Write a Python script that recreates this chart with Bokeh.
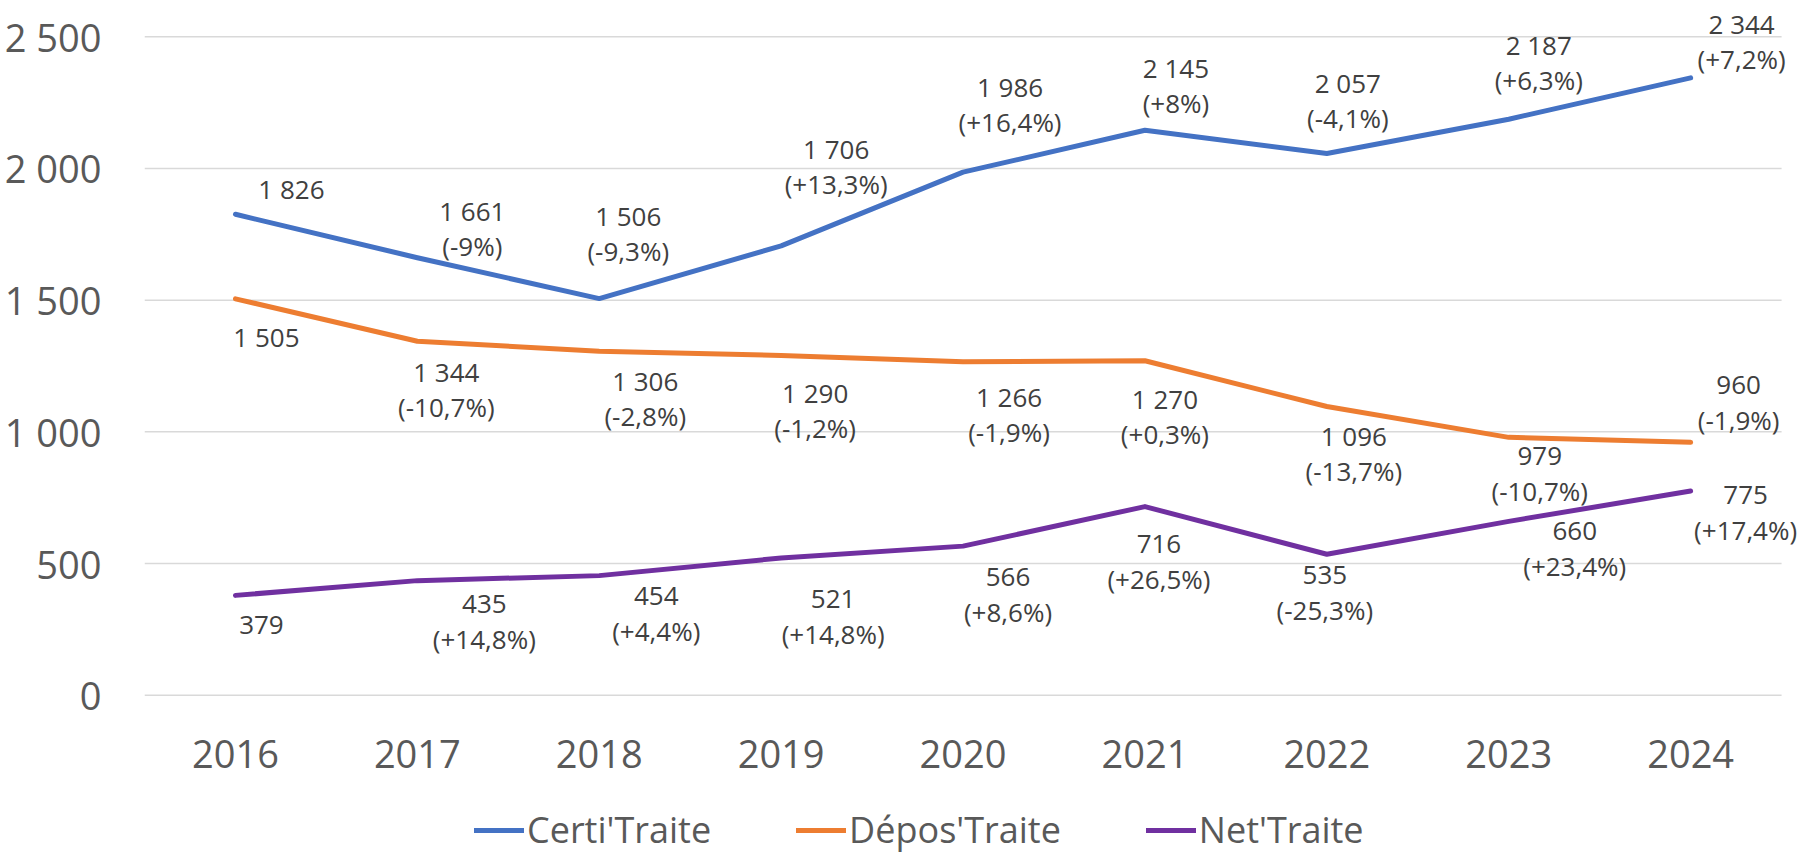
from bokeh.plotting import figure
from bokeh.models import (ColumnDataSource, LabelSet, Legend, LegendItem,
                          FixedTicker, Range1d)
from bokeh.core.properties import value
from bokeh.embed import file_html
from bokeh.resources import INLINE

# ---------------- data ----------------
years = [2016, 2017, 2018, 2019, 2020, 2021, 2022, 2023, 2024]
certi = [1826, 1661, 1506, 1706, 1986, 2145, 2057, 2187, 2344]
depos = [1505, 1344, 1306, 1290, 1266, 1270, 1096, 979, 960]
net = [379, 435, 454, 521, 566, 716, 535, 660, 775]
certi_pct = ["", "(-9%)", "(-9,3%)", "(+13,3%)", "(+16,4%)", "(+8%)", "(-4,1%)", "(+6,3%)", "(+7,2%)"]
depos_pct = ["", "(-10,7%)", "(-2,8%)", "(-1,2%)", "(-1,9%)", "(+0,3%)", "(-13,7%)", "(-10,7%)", "(-1,9%)"]
net_pct = ["", "(+14,8%)", "(+4,4%)", "(+14,8%)", "(+8,6%)", "(+26,5%)", "(-25,3%)", "(+23,4%)", "(+17,4%)"]
series_names = ["Certi'Traite", "Dépos'Traite", "Net'Traite"]
y_ticks = [0, 500, 1000, 1500, 2000, 2500]

# ---------------- layout / style ----------------
colors = ["#4472C4", "#ED7D31", "#7030A0"]
# label offsets in screen pixels (dx right, dy down) for the value line
certi_off = [(56, -25), (55, -47), (29, -83), (55, -97), (47, -85), (31, -62), (21, -70), (30, -74), (51, -54)]
depos_off = [(31, 38), (29, 31), (46, 30), (34, 38), (46, 35), (20, 38), (27, 29), (31, 19), (48, -57)]
net_off = [(26, 30), (67, 23), (57, 20), (52, 41), (45, 31), (14, 37), (-2, 21), (66, 10), (55, 4)]
LINE_GAP = 35
FONT = "Open Sans"


def fmt(v):
    return f"{v:,}".replace(",", " ")


W, H = 1798, 858
X0, X1 = 2015.5, 2024.593
Y0, Y1 = -620.1, 2637.8
p = figure(width=W, height=H, output_backend="svg", toolbar_location=None,
           x_range=Range1d(X0, X1), y_range=Range1d(Y0, Y1),
           min_border_left=144, min_border_right=0, min_border_top=0,
           min_border_bottom=0)
p.outline_line_color = None
p.background_fill_color = "white"
p.border_fill_color = "white"

# axes
p.xaxis.ticker = FixedTicker(ticks=years)
p.xaxis.major_label_overrides = {y: str(y) for y in years}
p.xaxis.fixed_location = 0
p.yaxis.ticker = FixedTicker(ticks=y_ticks)
p.yaxis.major_label_overrides = {t: fmt(t) for t in y_ticks}
for ax in (p.xaxis[0], p.yaxis[0]):
    ax.axis_line_color = None
    ax.major_tick_line_color = None
    ax.minor_tick_line_color = None
    ax.major_label_text_font = FONT
    ax.major_label_text_font_size = "38px"
    ax.major_label_text_color = "#595959"
p.yaxis.major_label_standoff = 37
p.xaxis.major_label_standoff = 39

# horizontal gridlines limited to the category span
p.xgrid.grid_line_color = None
p.ygrid.grid_line_color = None
p.segment(x0=[years[0] - 0.5] * len(y_ticks), x1=[years[-1] + 0.5] * len(y_ticks),
          y0=y_ticks, y1=y_ticks, line_color="#D9D9D9", line_width=1.5)

renderers = []
for vals, pcts, offs, col in [(certi, certi_pct, certi_off, colors[0]),
                              (depos, depos_pct, depos_off, colors[1]),
                              (net, net_pct, net_off, colors[2])]:
    r = p.line(years, vals, line_color=col, line_width=5,
               line_cap="round", line_join="round")
    renderers.append(r)
    src = ColumnDataSource(dict(
        x=years, y=vals,
        val=[fmt(v) for v in vals], pct=pcts,
        dx=[o[0] for o in offs],
        dy1=[-o[1] for o in offs],
        dy2=[-(o[1] + LINE_GAP) for o in offs],
    ))
    for txt, dy in (("val", "dy1"), ("pct", "dy2")):
        ls = LabelSet(x="x", y="y", text=txt, source=src,
                      x_offset="dx", y_offset=dy,
                      text_align="center", text_baseline="middle",
                      text_font=value(FONT), text_font_size="26px",
                      text_color="#404040")
        p.add_layout(ls)

legend = Legend(items=[LegendItem(label=n, renderers=[r])
                       for n, r in zip(series_names, renderers)],
                orientation="horizontal", location=(330, 4),
                padding=0, margin=0, spacing=85,
                glyph_width=50, glyph_height=48, label_height=48,
                label_standoff=3,
                label_text_font=FONT, label_text_font_size="36px",
                label_text_color="#595959",
                background_fill_alpha=0, border_line_alpha=0)
p.add_layout(legend)

open("out.html", "w").write(file_html(p, INLINE))
